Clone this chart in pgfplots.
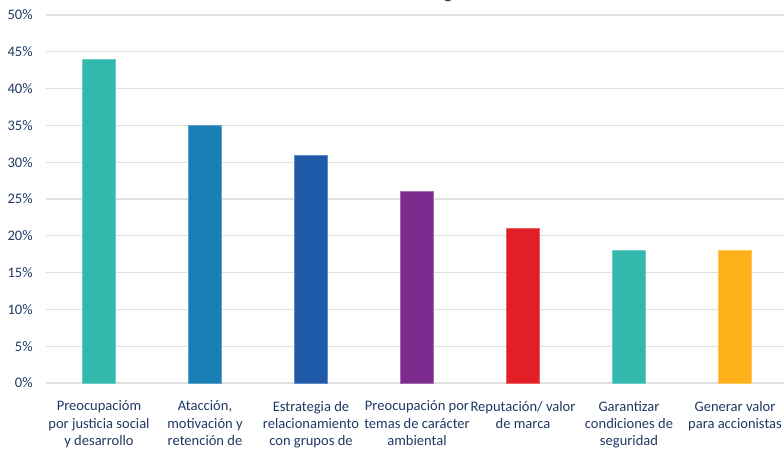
\documentclass[border=0pt]{standalone}
\usepackage{fontspec}
\setmainfont{Carlito}
\usepackage{pgfplots}
\pgfplotsset{compat=1.18}
\definecolor{navy}{HTML}{203864}
\definecolor{cTeal}{HTML}{33B8AE}
\definecolor{cBlue}{HTML}{1A7FB5}
\definecolor{cDBlue}{HTML}{1E5AA8}
\definecolor{cPurple}{HTML}{7B2C8E}
\definecolor{cRed}{HTML}{E31E27}
\definecolor{cOrange}{HTML}{FDB019}
\definecolor{gridc}{HTML}{E0E0E0}
\begin{document}
\begin{tikzpicture}
\useasboundingbox (0,0) rectangle (588pt,337.5pt);
\clip (0,0) rectangle (588pt,337.5pt);
\begin{axis}[
  at={(34.5pt,50.25pt)}, anchor=south west,
  scale only axis, width=556.5pt, height=276pt,
  xmin=-0.5, xmax=6.5, ymin=0, ymax=50,
  ybar, bar width=25.1pt, bar shift=0pt,
  axis line style={draw=none}, tick style={draw=none},
  ymajorgrids, grid style={gridc, line width=0.9pt},
  ytick={0,5,...,50},
  yticklabel={\pgfmathprintnumber{\tick}\%},
  /pgf/number format/assume math mode=true,
  yticklabel style={anchor=east, inner sep=0pt, xshift=-9.75pt, text=navy, font=\fontsize{10.9}{13.1}\selectfont},
  xtick={0,...,6},
  xticklabels={{Preocupacióm\\por justicia social\\y desarrollo},
    {Atacción,\\motivación y\\retención de},
    {Estrategia de\\relacionamiento\\con grupos de},
    {Preocupación por\\temas de carácter\\ambiental},
    {Reputación/ valor\\de marca},
    {Garantizar\\condiciones de\\seguridad},
    {Generar valor\\para accionistas}},
  xticklabel style={anchor=north, inner sep=0pt, yshift=-9pt, align=center, text=navy, font=\fontsize{10.9}{13.1}\selectfont},
  clip=false,
]
\addplot[fill=cTeal, draw=cTeal!70!white, line width=0.4pt] coordinates {(0,44)};
\addplot[fill=cBlue, draw=cBlue!70!white, line width=0.4pt] coordinates {(1,35)};
\addplot[fill=cDBlue, draw=cDBlue!70!white, line width=0.4pt] coordinates {(2,31)};
\addplot[fill=cPurple, draw=cPurple!70!white, line width=0.4pt] coordinates {(3,26)};
\addplot[fill=cRed, draw=cRed!70!white, line width=0.4pt] coordinates {(4,21)};
\addplot[fill=cTeal, draw=cTeal!70!white, line width=0.4pt] coordinates {(5,18)};
\addplot[fill=cOrange, draw=cOrange!70!white, line width=0.4pt] coordinates {(6,18)};
\end{axis}
\node[anchor=base, inner sep=0pt, text=navy, font=\fontsize{14.2}{17}\selectfont] at (336pt,338.25pt) {g};
\end{tikzpicture}
\end{document}
